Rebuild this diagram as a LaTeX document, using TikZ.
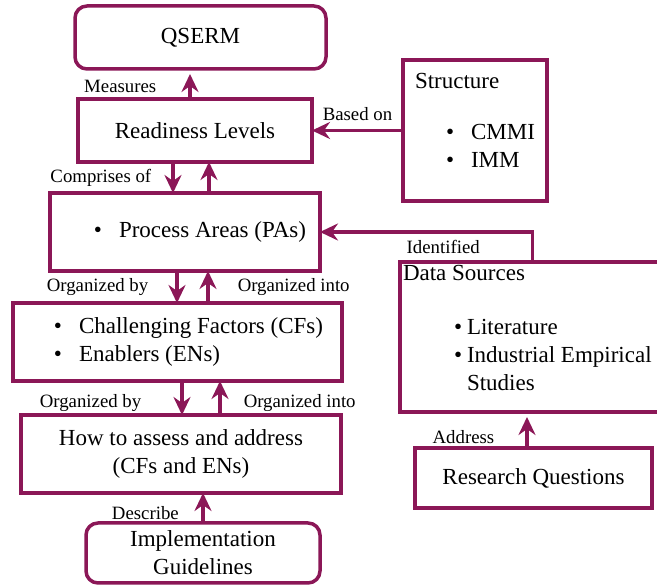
\documentclass[tikz,border=0pt]{standalone}
\usepackage{fontspec}
\setmainfont{Liberation Serif}
\usepackage{tikz}
\usetikzlibrary{positioning}
\usetikzlibrary{arrows.meta}
\definecolor{berry}{RGB}{139,23,87}

\begin{document}
\begin{tikzpicture}[x=1pt,y=-1pt]
\tikzstyle{box}=[rectangle, draw=berry, line width=3.5pt, outer sep=0pt, inner sep=0pt, font=\fontsize{23}{28}\selectfont]
\tikzstyle{rbox}=[box, rounded corners=12pt]
\tikzstyle{connect}=[-{Stealth[length=18pt,width=17pt,inset=6pt]}, line width=3.5pt, draw=berry]
\tikzstyle{lbl}=[inner sep=0pt, font=\fontsize{18.8}{22}\selectfont]
\useasboundingbox (0,0) rectangle (657,585);

  \node[rbox, minimum width=251pt, minimum height=63pt] (qserm) at (200.5,37.5) {QSERM};
  \node[box, minimum width=234pt, minimum height=63pt] (rl) [below=30pt of qserm, xshift=-5.5pt] {Readiness Levels};
  \node[box, text height=28.5pt, text depth=112.5pt] (struct) [right=91pt of rl]
    {\makebox[144pt][l]{\hspace{12pt}\begin{tabular}[t]{@{}l@{}}Structure\\[23pt]
     \hspace{31pt}\textbullet\hspace{17pt}CMMI\\
     \hspace{31pt}\textbullet\hspace{17pt}IMM\end{tabular}}};
  \node[box, minimum width=270pt, minimum height=78pt] (pa) [below=31pt of rl, xshift=-10pt]
    {\hspace{30pt}\textbullet\hspace{17pt}Process Areas (PAs)};
  \node[box, minimum width=329pt, minimum height=78pt] (cf) [below=32pt of pa, xshift=-7.5pt]
    {\hspace{22pt}\begin{tabular}{@{}l@{\hspace{17pt}}l@{}}\textbullet & Challenging Factors (CFs)\\
     \textbullet & Enablers (ENs)\end{tabular}};
  \node[box, minimum width=320pt, minimum height=78pt, align=center] (hta) [below=34pt of cf, xshift=3.5pt]
    {How to assess and address\\(CFs and ENs)};
  \node[rbox, minimum width=234pt, minimum height=60pt, align=center] (ig) [below=30pt of hta, xshift=22pt]
    {Implementation\\Guidelines};
  \node[box, text height=18.5pt, text depth=131.5pt] (ds) [below=61pt of struct, xshift=57.5pt]
    {\makebox[265pt][l]{\hspace{3pt}\begin{tabular}[t]{@{}l@{}}Data Sources\\[26pt]
     \hspace{51pt}\textbullet\hspace{5pt}Literature\\
     \hspace{51pt}\textbullet\hspace{5pt}Industrial Empirical\\
     \hspace{64pt}Studies\end{tabular}}};
  \node[box, minimum width=237pt, minimum height=60pt] (rq) [below=36pt of ds, xshift=1pt] {Research Questions};

  \draw[connect, shorten >=5pt] ([xshift=-5pt]rl.north) -- node[lbl, left=32pt, yshift=-2pt] {Measures} ([xshift=-10.5pt]qserm.south);
  \draw[connect] (struct) -- node[lbl, above=8pt] {Based on} (rl);
  \draw[connect] ([xshift=-22pt]rl.south) -- node[lbl, left=20pt] {Comprises of} ([xshift=-12pt]pa.north);
  \draw[connect] ([xshift=24pt]pa.north) -- ([xshift=14pt]rl.south);
  \draw[connect] ([xshift=-8pt]pa.south) -- node[lbl, left=27pt] {Organized by} ([xshift=-0.5pt]cf.north);
  \draw[connect] ([xshift=30.5pt]cf.north) -- node[lbl, right=28pt] {Organized into} ([xshift=23pt]pa.south);
  \draw[connect] ([xshift=4.5pt]cf.south) -- node[lbl, left=39pt, yshift=-5pt] {Organized by} ([xshift=1pt]hta.north);
  \draw[connect] ([xshift=39pt]hta.north) -- node[lbl, right=22pt, yshift=-5pt] {Organized into} ([xshift=42.5pt]cf.south);
  \draw[connect] (ig.north) -- node[lbl, left=22.5pt, yshift=-5pt] {Describe} ([xshift=22pt]hta.south);
  \draw[connect] (ds.north) |- node[lbl, pos=0.71, below=6.7pt] {Identified} (pa.east);
  \draw[connect, shorten >=5pt] ([xshift=-6.5pt]rq.north) -- node[lbl, left=31pt, yshift=-7pt] {Address} ([xshift=-5.5pt]ds.south);
\end{tikzpicture}
\end{document}
